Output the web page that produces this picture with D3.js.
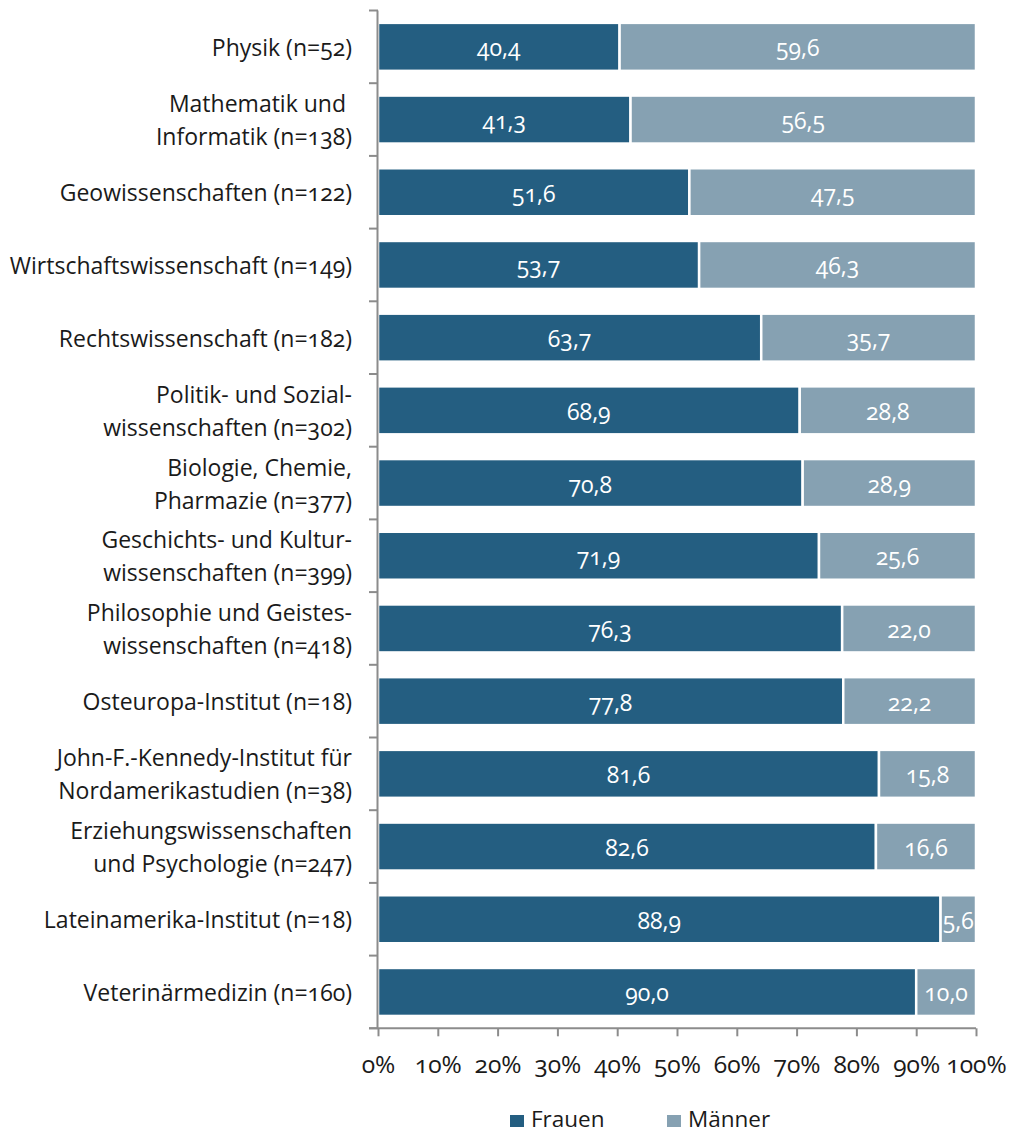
<!DOCTYPE html>
<html lang="de">
<head>
<meta charset="utf-8">
<script src="https://cdn.jsdelivr.net/npm/d3@7"></script>
<style>
  html, body { margin: 0; padding: 0; background: #fff; }
  svg text {
    font-family: "Open Sans", "Noto Sans", sans-serif;
    font-feature-settings: "onum" 1;
    font-variant-numeric: oldstyle-nums;
  }
</style>
</head>
<body>
<svg id="chart" width="1013" height="1133"></svg>
<script>
// Fachbereiche (Kategorienbeschriftung, ggf. zweizeilig)
const categories = [
  ["Physik (n=52)"],
  ["Mathematik und ", "Informatik (n=138)"],
  ["Geowissenschaften (n=122)"],
  ["Wirtschaftswissenschaft (n=149)"],
  ["Rechtswissenschaft (n=182)"],
  ["Politik- und Sozial-", "wissenschaften (n=302)"],
  ["Biologie, Chemie,", "Pharmazie (n=377)"],
  ["Geschichts- und Kultur-", "wissenschaften (n=399)"],
  ["Philosophie und Geistes-", "wissenschaften (n=418)"],
  ["Osteuropa-Institut (n=18)"],
  ["John-F.-Kennedy-Institut für", "Nordamerikastudien (n=38)"],
  ["Erziehungswissenschaften", "und Psychologie (n=247)"],
  ["Lateinamerika-Institut (n=18)"],
  ["Veterinärmedizin (n=160)"]
];

// Anteile in Prozent
const frauen = [40.4, 41.3, 51.6, 53.7, 63.7, 68.9, 70.8, 71.9, 76.3, 77.8, 81.6, 82.6, 88.9, 90.0];
const maenner = [59.6, 56.5, 47.5, 46.3, 35.7, 28.8, 28.9, 25.6, 22.0, 22.2, 15.8, 16.6, 5.6, 10.0];

const seriesNames = ["Frauen", "Männer"];
const xTicks = [0, 10, 20, 30, 40, 50, 60, 70, 80, 90, 100];

const colors = { "Frauen": "#245e81", "Männer": "#86a1b2" };
const axisColor = "#8c8c8c";
const textColor = "#1a1a1a";

const svg = d3.select("#chart");

const plotLeft = 378, plotRight = 976, plotTop = 10.5, plotBottom = 1028.3;
const gap = 2.5; // weiße Trennlinie zwischen den Segmenten

const keys = categories.map((c, i) => i);
const x = d3.scaleLinear().domain([0, 100]).range([plotLeft, plotRight]);
const y = d3.scaleBand().domain(keys).range([plotTop, plotBottom])
  .paddingInner(0.34).paddingOuter(0.17);
const step = y.step();

// 100%-gestapelte Werte (Summe je Zeile normiert)
const rows = keys.map(i => {
  const total = frauen[i] + maenner[i];
  return [
    { key: "Frauen", i, value: frauen[i], x0: 0, x1: frauen[i] / total * 100 },
    { key: "Männer", i, value: maenner[i], x0: frauen[i] / total * 100, x1: 100 }
  ];
});

const fmt = v => v.toFixed(1).replace(".", ",");

// Balken
const barG = svg.append("g");
const rowG = barG.selectAll("g.row").data(rows).join("g").attr("class", "row");
rowG.selectAll("rect").data(d => d).join("rect")
  .attr("x", d => x(d.x0))
  .attr("y", d => y(d.i))
  .attr("width", d => x(d.x1) - x(d.x0))
  .attr("height", y.bandwidth())
  .attr("fill", d => colors[d.key])
  .attr("stroke", "#fff")
  .attr("stroke-width", gap);

// Wertebeschriftung
rowG.selectAll("text").data(d => d).join("text")
  .attr("x", d => (x(d.x0) + x(d.x1)) / 2)
  .attr("y", d => y(d.i) + y.bandwidth() / 2 + 9.5)
  .attr("text-anchor", "middle")
  .attr("fill", "#fff")
  .attr("font-size", 23)
  .text(d => fmt(d.value));

// y-Achse mit Teilstrichen an den Kategoriegrenzen
const yAxisG = svg.append("g");
yAxisG.append("line")
  .attr("x1", plotLeft - 0.5).attr("x2", plotLeft - 0.5)
  .attr("y1", plotTop).attr("y2", plotBottom)
  .attr("stroke", axisColor).attr("stroke-width", 2);
yAxisG.selectAll("line.tick").data(d3.range(categories.length + 1)).join("line")
  .attr("class", "tick")
  .attr("x1", plotLeft - 9).attr("x2", plotLeft)
  .attr("y1", k => plotTop + k * step).attr("y2", k => plotTop + k * step)
  .attr("stroke", axisColor).attr("stroke-width", 2);

// Kategoriebeschriftung
const lineH = 33;
const labG = svg.append("g");
labG.selectAll("text").data(categories.map((c, i) => ({ lines: c, i }))).join("text")
  .attr("text-anchor", "end")
  .attr("font-size", 23)
  .attr("fill", textColor)
  .style("white-space", "pre")
  .each(function (d) {
    const cy = plotTop + d.i * step + step / 2;
    const n = d.lines.length;
    d3.select(this).selectAll("tspan").data(d.lines).join("tspan")
      .attr("x", 352)
      .attr("y", (l, j) => cy + (j - (n - 1) / 2) * lineH + 9)
      .text(l => l);
  });

// x-Achse
const xAxis = d3.axisBottom(x).tickValues(xTicks).tickSize(8)
  .tickFormat(v => v + "%");
const xAxisG = svg.append("g").attr("transform", `translate(0,${plotBottom})`).call(xAxis);
xAxisG.select(".domain").attr("stroke", axisColor).attr("stroke-width", 2)
  .attr("d", `M${plotLeft - 9},0H${plotRight}`);
xAxisG.selectAll(".tick line").attr("stroke", axisColor).attr("stroke-width", 2);
xAxisG.selectAll(".tick text")
  .attr("font-size", 24.5)
  .attr("fill", textColor)
  .attr("y", 45)
  .attr("dy", null)
  .style("font-family", "'Open Sans', 'Noto Sans', sans-serif");

// Legende
const legend = svg.append("g").attr("transform", "translate(0,1127)");
const legX = { "Frauen": 510, "Männer": 667 };
const legItems = legend.selectAll("g").data(seriesNames).join("g")
  .attr("transform", d => `translate(${legX[d]},0)`);
legItems.append("rect")
  .attr("x", 0).attr("y", -12).attr("width", 14).attr("height", 12)
  .attr("fill", d => colors[d]);
legItems.append("text")
  .attr("x", 21).attr("y", 0)
  .attr("font-size", 22.5)
  .attr("fill", textColor)
  .text(d => d);
</script>
</body>
</html>
